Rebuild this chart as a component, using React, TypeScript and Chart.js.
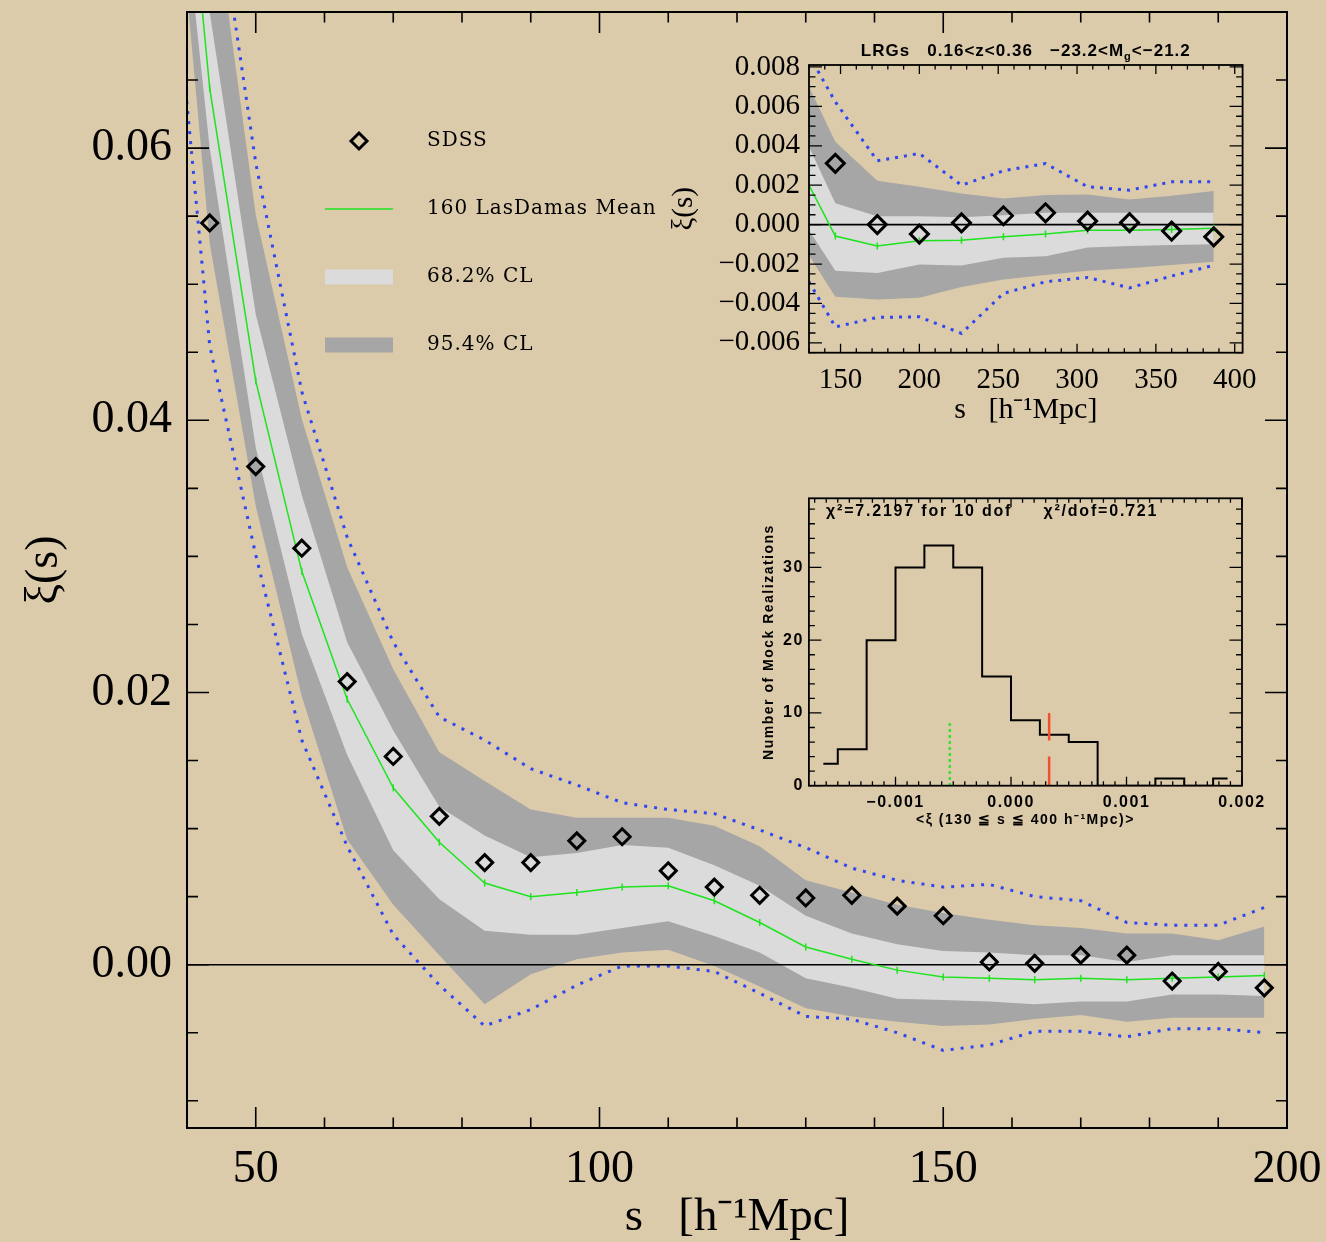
import React, { useEffect, useRef } from 'react';
import { Chart, registerables } from 'chart.js';

Chart.register(...registerables);

const BG = '#dccbab';
const GREEN = '#1fe31f';
const BLUE = '#2f47f2';
const DARK = '#a6a6a6';
const LIGHT = '#dadbda';
const RED = '#f0502c';

// ---------------- main panel ----------------
const sMock = [36.7, 43.3, 50.0, 56.7, 63.3, 70.0, 76.7, 83.3, 90.0, 96.7, 103.3, 110.0, 116.7, 123.3, 130.0, 136.7, 143.3, 150.0, 156.7, 163.3, 170.0, 176.7, 183.3, 190.0, 196.7];
const meanXi = [0.0994, 0.0644, 0.0429, 0.0289, 0.0195, 0.0130, 0.0090, 0.0060, 0.0050, 0.0053, 0.0057, 0.0058, 0.0047, 0.0031, 0.0013, 0.0004, -0.0004, -0.0009, -0.0010, -0.0011, -0.0010, -0.0011, -0.0010, -0.0009, -0.0008];
const ci68Upper = [0.106, 0.0700, 0.0478, 0.0345, 0.0237, 0.0172, 0.0116, 0.0095, 0.0079, 0.0082, 0.0088, 0.0086, 0.0073, 0.0058, 0.0036, 0.0023, 0.0015, 0.0010, 0.0009, 0.0007, 0.0007, 0.0002, 0.0007, 0.0007, 0.0007];
const ci68Lower = [0.0913, 0.0600, 0.0380, 0.0243, 0.0154, 0.0084, 0.0048, 0.0025, 0.0022, 0.0022, 0.0027, 0.0032, 0.0021, 0.0009, -0.0010, -0.0017, -0.0025, -0.0026, -0.0027, -0.0029, -0.0027, -0.0027, -0.0022, -0.0022, -0.0023];
const ci95Upper = [0.115, 0.0800, 0.0551, 0.0401, 0.0292, 0.0217, 0.0156, 0.0135, 0.0114, 0.0108, 0.0108, 0.0108, 0.0102, 0.0087, 0.0062, 0.0053, 0.0044, 0.0038, 0.0033, 0.0029, 0.0027, 0.0023, 0.0023, 0.0018, 0.0028];
const ci95Lower = [0.0897, 0.0530, 0.0337, 0.0197, 0.0092, 0.0044, 0.0007, -0.0029, -0.0007, 0.0004, 0.0009, 0.0011, -0.0001, -0.0016, -0.0032, -0.0038, -0.0042, -0.0045, -0.0044, -0.0040, -0.0037, -0.0042, -0.0039, -0.0039, -0.0039];
const envUpper = [0.120, 0.0820, 0.0589, 0.0421, 0.0314, 0.0237, 0.0182, 0.0165, 0.0144, 0.0132, 0.0119, 0.0114, 0.0111, 0.0099, 0.0086, 0.0071, 0.0062, 0.0057, 0.0059, 0.0050, 0.0047, 0.0031, 0.0029, 0.0029, 0.0042];
const envLower = [0.0810, 0.0455, 0.0301, 0.0165, 0.0087, 0.0022, -0.0015, -0.0045, -0.0033, -0.0015, -0.0001, -0.0001, -0.0005, -0.0021, -0.0038, -0.0040, -0.0050, -0.0063, -0.0059, -0.0049, -0.0049, -0.0053, -0.0047, -0.0047, -0.0050];
const sSdss = [43.3, 50.0, 56.7, 63.3, 70.0, 76.7, 83.3, 90.0, 96.7, 103.3, 110.0, 116.7, 123.3, 130.0, 136.7, 143.3, 150.0, 156.7, 163.3, 170.0, 176.7, 183.3, 190.0, 196.7];
const xiSdss = [0.0545, 0.0366, 0.0306, 0.0208, 0.0153, 0.0109, 0.0075, 0.0075, 0.0091, 0.0094, 0.0069, 0.0057, 0.0051, 0.0049, 0.0051, 0.0043, 0.0036, 0.0002, 0.0001, 0.0007, 0.0007, -0.0012, -0.0005, -0.0017];
const mainXRange = [40, 200];
const mainYRange = [-0.012, 0.07];
const mainXTicks = [50, 100, 150, 200];
const mainYTicks = [0, 0.02, 0.04, 0.06];
const legendLabels = ['SDSS', '160 LasDamas Mean', '68.2% CL', '95.4% CL'];

// ---------------- inset: large scales ----------------
const sInset = [130.0, 146.7, 173.3, 200.0, 226.7, 253.3, 280.0, 306.7, 333.3, 360.0, 386.7];
const meanInset = [0.0020, -0.00058, -0.00109, -0.00082, -0.00079, -0.00062, -0.00048, -0.00028, -0.00028, -0.00025, -0.00018];
const ci95UpperInset = [0.0070, 0.0042, 0.00222, 0.00192, 0.00158, 0.00133, 0.0015, 0.00153, 0.00128, 0.00146, 0.0017];
const ci68UpperInset = [0.00395, 0.00108, 0.00043, 0.00043, 0.00037, 0.00048, 0.0006, 0.0006, 0.0006, 0.0006, 0.0006];
const ci68LowerInset = [-0.00028, -0.00234, -0.00245, -0.00202, -0.00207, -0.00168, -0.0016, -0.00116, -0.00109, -0.00104, -0.0010];
const ci95LowerInset = [-0.00155, -0.00366, -0.0038, -0.00371, -0.00316, -0.00278, -0.00256, -0.00234, -0.00222, -0.00205, -0.00189];
const envUpperInset = [0.0086, 0.00623, 0.00324, 0.00361, 0.0020, 0.00273, 0.0031, 0.00192, 0.00175, 0.00217, 0.00217];
const envLowerInset = [-0.0029, -0.00519, -0.00471, -0.00468, -0.00552, -0.00349, -0.0029, -0.00268, -0.00321, -0.00261, -0.00206];
const sSdssInset = [146.7, 173.3, 200.0, 226.7, 253.3, 280.0, 306.7, 333.3, 360.0, 386.7];
const xiSdssInset = [0.00311, 0.0000, -0.00048, 0.00009, 0.00045, 0.0006, 0.00018, 0.0001, -0.00033, -0.00062];
const insetXRange = [130, 405];
const insetYRange = [-0.0065, 0.0081];
const insetXTicks = [150, 200, 250, 300, 350, 400];
const insetYTicks = [-0.006, -0.004, -0.002, 0, 0.002, 0.004, 0.006, 0.008];

// ---------------- inset: histogram ----------------
const histXi = [-0.001625, -0.001375, -0.001125, -0.000875, -0.000625, -0.000375, -0.000125, 0.000125, 0.000375, 0.000625, 0.000875, 0.001125, 0.001375, 0.001625, 0.001875];
const histCounts = [3, 5, 20, 30, 33, 30, 15, 9, 7, 6, 0, 0, 1, 0, 1];
const mockMeanXi = -0.00053;
const mockMeanMarker = [0, 9];
const sdssMeanXi = 0.00033;
const sdssMarkerLow = [0, 4];
const sdssMarkerHigh = [6.2, 10];
const histXRange = [-0.00175, 0.002];
const histYRange = [0, 39.5];
const histXTicks = [-0.001, 0, 0.001, 0.002];
const histYTicks = [0, 10, 20, 30];

const pts = (xs: number[], ys: (number | null)[]) => xs.map((x, i) => ({ x, y: ys[i] }));
const minus = (s: string) => s.replace('-', '\u2212');

const fitX = (h: number) => (s: any) => { s.height = h; s.paddingLeft = 0; s.paddingRight = 0; s.paddingTop = 0; s.paddingBottom = 0; };
const fitY = (w: number) => (s: any) => { s.width = w; s.paddingLeft = 0; s.paddingRight = 0; s.paddingTop = 0; s.paddingBottom = 0; };

// inward ticks + frame drawn from the chart's own scales
const frameTicks = {
  id: 'frameTicks',
  afterDraw(chart: any, _a: any, o: any) {
    const { ctx, chartArea: a } = chart;
    const xs = chart.scales.x;
    const ys = chart.scales.y;
    ctx.save();
    ctx.strokeStyle = '#000';
    ctx.lineWidth = o.tickWidth;
    ctx.beginPath();
    const xe = o.xMinorStep * 1e-3;
    for (let k = Math.ceil(xs.min / o.xMinorStep - 1e-6); k * o.xMinorStep <= xs.max + xe; k++) {
      const v = k * o.xMinorStep;
      const maj = o.xMajor.some((m: number) => Math.abs(m - v) < xe);
      const len = maj ? o.xMajorLen : o.xMinorLen;
      const p = xs.getPixelForValue(v);
      ctx.moveTo(p, a.bottom); ctx.lineTo(p, a.bottom - len);
      ctx.moveTo(p, a.top); ctx.lineTo(p, a.top + len);
    }
    const ye = o.yMinorStep * 1e-3;
    for (let k = Math.ceil(ys.min / o.yMinorStep - 1e-6); k * o.yMinorStep <= ys.max + ye; k++) {
      const v = k * o.yMinorStep;
      const maj = o.yMajor.some((m: number) => Math.abs(m - v) < ye);
      const len = maj ? o.yMajorLen : o.yMinorLen;
      const p = ys.getPixelForValue(v);
      ctx.moveTo(a.left, p); ctx.lineTo(a.left + len, p);
      ctx.moveTo(a.right, p); ctx.lineTo(a.right - len, p);
    }
    ctx.stroke();
    ctx.lineWidth = o.frameWidth;
    ctx.strokeRect(a.left, a.top, a.right - a.left, a.bottom - a.top);
    ctx.restore();
  },
};

// letter spacing for all text of a chart (tick labels and titles)
const spacing = {
  id: 'spacing',
  beforeUpdate(chart: any, _a: any, o: any) { if (o && o.value) (chart.ctx as any).letterSpacing = o.value; },
  beforeDraw(chart: any, _a: any, o: any) { if (o && o.value) (chart.ctx as any).letterSpacing = o.value; },
};

const mainLegend = {
  id: 'mainLegend',
  afterDraw(chart: any, _a: any, o: any) {
    const { ctx } = chart;
    const ds = chart.data.datasets;
    ctx.save();
    ctx.font = o.font;
    (ctx as any).letterSpacing = o.letterSpacing;
    ctx.textBaseline = 'middle';
    ctx.fillStyle = '#000';
    o.items.forEach((it: any, i: number) => {
      const y = o.top + i * o.rowGap;
      const d = ds[it.dataset];
      const x0 = o.left;
      const x1 = o.left + o.markerWidth;
      const cx = (x0 + x1) / 2;
      if (it.kind === 'point') {
        const r = d.pointRadius;
        ctx.strokeStyle = d.pointBorderColor;
        ctx.lineWidth = d.pointBorderWidth;
        ctx.beginPath();
        ctx.moveTo(cx - r, y); ctx.lineTo(cx, y - r); ctx.lineTo(cx + r, y); ctx.lineTo(cx, y + r);
        ctx.closePath();
        ctx.stroke();
      } else if (it.kind === 'line') {
        ctx.strokeStyle = d.borderColor;
        ctx.lineWidth = d.borderWidth;
        ctx.beginPath(); ctx.moveTo(x0, y); ctx.lineTo(x1, y); ctx.stroke();
      } else {
        ctx.fillStyle = d.backgroundColor;
        ctx.fillRect(x0, y - o.boxHeight / 2, x1 - x0, o.boxHeight);
      }
      ctx.fillStyle = '#000';
      ctx.fillText(it.label, o.textX, y);
    });
    ctx.restore();
  },
};

const runText = {
  id: 'runText',
  afterDraw(chart: any, _a: any, o: any) {
    if (!o || !o.runs) return;
    const { ctx, chartArea: a } = chart;
    ctx.save();
    ctx.fillStyle = '#000';
    ctx.textBaseline = 'middle';
    (ctx as any).letterSpacing = o.letterSpacing || '0px';
    const measure = (r: any) => {
      ctx.font = r.sub ? o.subFont : o.font;
      return ctx.measureText(r.text).width;
    };
    const total = o.runs.reduce((s: number, r: any) => s + measure(r), 0);
    let x = o.align === 'center' ? (a.left + a.right) / 2 - total / 2 : o.x;
    const y = o.y;
    o.runs.forEach((r: any) => {
      ctx.font = r.sub ? o.subFont : o.font;
      ctx.fillText(r.text, x, r.sub ? y + o.subShift : y);
      x += ctx.measureText(r.text).width;
    });
    ctx.restore();
  },
};

function makeDatasets(x: number[], mean: number[], c68u: number[], c68l: number[], c95u: number[], c95l: number[], eu: number[], el: number[], sx: number[], sy: number[], zeroX: number[], diamondR: number, dash: number[]) {
  const base = { pointRadius: 0, pointHoverRadius: 0, tension: 0 };
  return [
    { ...base, label: legendLabels[0], data: pts(sx, sy), showLine: false, pointStyle: 'rectRot', pointRadius: diamondR, pointBorderWidth: 3, pointBorderColor: '#000', pointBackgroundColor: 'rgba(0,0,0,0)', order: 1 },
    { ...base, label: legendLabels[1], data: pts(x, mean), borderColor: GREEN, borderWidth: 1.5, pointStyle: 'line', pointRotation: 90, pointRadius: 3.5, pointBorderWidth: 1.5, pointBorderColor: GREEN, order: 2 },
    { ...base, label: 'zero', data: pts(zeroX, [0, 0]), borderColor: '#000', borderWidth: 1.6, order: 3 },
    { ...base, label: 'envUpper', data: pts(x, eu), borderColor: BLUE, borderWidth: 3, borderDash: dash, order: 4 },
    { ...base, label: 'envLower', data: pts(x, el), borderColor: BLUE, borderWidth: 3, borderDash: dash, order: 4 },
    { ...base, label: legendLabels[2], data: pts(x, c68u), borderWidth: 0, borderColor: 'rgba(0,0,0,0)', backgroundColor: LIGHT, fill: 6, order: 5 },
    { ...base, label: 'ci68Lower', data: pts(x, c68l), borderWidth: 0, borderColor: 'rgba(0,0,0,0)', order: 5 },
    { ...base, label: legendLabels[3], data: pts(x, c95u), borderWidth: 0, borderColor: 'rgba(0,0,0,0)', backgroundColor: DARK, fill: 8, order: 6 },
    { ...base, label: 'ci95Lower', data: pts(x, c95l), borderWidth: 0, borderColor: 'rgba(0,0,0,0)', order: 6 },
  ];
}

function useChart(ref: React.RefObject<HTMLCanvasElement>, build: () => any) {
  useEffect(() => {
    if (!ref.current) return;
    const chart = new Chart(ref.current, build());
    return () => chart.destroy();
  }, []);
}

function MainChart() {
  const ref = useRef<HTMLCanvasElement>(null);
  useChart(ref, () => ({
    type: 'line',
    data: {
      datasets: makeDatasets(sMock, meanXi, ci68Upper, ci68Lower, ci95Upper, ci95Lower, envUpper, envLower, sSdss, xiSdss, mainXRange, 8, [3, 7]),
    },
    options: {
      animation: false,
      responsive: false,
      events: [],
      layout: { padding: { top: 12, right: 39, left: 0, bottom: 0 } },
      plugins: {
        legend: { display: false },
        tooltip: { enabled: false },
        frameTicks: { xMajor: mainXTicks, xMinorStep: 10, yMajor: mainYTicks, yMinorStep: 0.005, xMajorLen: 21, xMinorLen: 10.5, yMajorLen: 22, yMinorLen: 11, tickWidth: 1.6, frameWidth: 2 },
        mainLegend: {
          font: '20px "DejaVu Serif"', letterSpacing: '1px', left: 325, markerWidth: 68, textX: 427, top: 141, rowGap: 68, boxHeight: 15,
          items: [
            { dataset: 0, kind: 'point', label: legendLabels[0] },
            { dataset: 1, kind: 'line', label: legendLabels[1] },
            { dataset: 5, kind: 'box', label: legendLabels[2] },
            { dataset: 7, kind: 'box', label: legendLabels[3] },
          ],
        },
      },
      scales: {
        x: {
          type: 'linear', min: mainXRange[0], max: mainXRange[1],
          afterFit: fitX(114),
          afterBuildTicks: (s: any) => { s.ticks = mainXTicks.map((v) => ({ value: v })); },
          grid: { display: false, drawTicks: false }, border: { display: false },
          ticks: { font: { family: 'Liberation Serif', size: 46 }, color: '#000', padding: 14, maxRotation: 0, autoSkip: false, callback: (v: any) => String(v) },
          title: { display: true, text: 's   [h\u207B\u00B9Mpc]', color: '#000', font: { family: 'Liberation Serif', size: 47, lineHeight: 1 }, padding: { top: 0, bottom: 1 } },
        },
        y: {
          type: 'linear', min: mainYRange[0], max: mainYRange[1],
          afterFit: fitY(187),
          afterBuildTicks: (s: any) => { s.ticks = mainYTicks.map((v) => ({ value: v })); },
          grid: { display: false, drawTicks: false }, border: { display: false },
          ticks: { font: { family: 'Liberation Serif', size: 46 }, color: '#000', padding: 15, autoSkip: false, callback: (v: any) => minus(Number(v).toFixed(2)) },
          title: { display: true, text: '\u03BE(s)', color: '#000', font: { family: 'Liberation Serif', size: 46, lineHeight: 1 }, padding: { top: 22, bottom: 0 } },
        },
      },
    },
    plugins: [frameTicks, mainLegend],
  }));
  return <canvas ref={ref} width={1326} height={1242} style={{ position: 'absolute', left: 0, top: 0, display: 'block' }} />;
}

function InsetXi() {
  const ref = useRef<HTMLCanvasElement>(null);
  useChart(ref, () => ({
    type: 'line',
    data: {
      datasets: makeDatasets(sInset, meanInset, ci68UpperInset, ci68LowerInset, ci95UpperInset, ci95LowerInset, envUpperInset, envLowerInset, sSdssInset, xiSdssInset, insetXRange, 9, [3, 6]),
    },
    options: {
      animation: false,
      responsive: false,
      events: [],
      layout: { padding: { top: 35, right: 37.4, left: 0, bottom: 0 } },
      plugins: {
        legend: { display: false },
        tooltip: { enabled: false },
        frameTicks: { xMajor: insetXTicks, xMinorStep: 10, yMajor: insetYTicks, yMinorStep: 0.0005, xMajorLen: 9, xMinorLen: 4.5, yMajorLen: 13, yMinorLen: 6.5, tickWidth: 1.3, frameWidth: 1.8 },
        runText: {
          align: 'center', y: 21, font: 'bold 17px "Liberation Sans"', subFont: 'bold 11px "Liberation Sans"', subShift: 6, letterSpacing: '1px',
          runs: [{ text: 'LRGs   0.16<z<0.36   \u221223.2<M' }, { text: 'g', sub: true }, { text: '<\u221221.2' }],
        },
      },
      scales: {
        x: {
          type: 'linear', min: insetXRange[0], max: insetXRange[1],
          afterFit: fitX(97.3),
          afterBuildTicks: (s: any) => { s.ticks = insetXTicks.map((v) => ({ value: v })); },
          grid: { display: false, drawTicks: false }, border: { display: false },
          ticks: { font: { family: 'Liberation Serif', size: 29 }, color: '#000', padding: 10, maxRotation: 0, autoSkip: false, callback: (v: any) => String(v) },
          title: { display: true, text: 's   [h\u207B\u00B9Mpc]', color: '#000', font: { family: 'Liberation Serif', size: 30, lineHeight: 1 }, padding: { top: 0, bottom: 25 } },
        },
        y: {
          type: 'linear', min: insetYRange[0], max: insetYRange[1],
          afterFit: fitY(169),
          afterBuildTicks: (s: any) => { s.ticks = insetYTicks.map((v) => ({ value: v })); },
          grid: { display: false, drawTicks: false }, border: { display: false },
          ticks: { font: { family: 'Liberation Serif', size: 29 }, color: '#000', padding: 9, autoSkip: false, callback: (v: any) => minus(Number(v).toFixed(3)) },
          title: { display: true, text: '\u03BE(s)', color: '#000', font: { family: 'Liberation Serif', size: 29, lineHeight: 1 }, padding: { top: 30, bottom: 0 } },
        },
      },
    },
    plugins: [frameTicks, runText],
  }));
  return <canvas ref={ref} width={640} height={420} style={{ position: 'absolute', left: 640, top: 30, display: 'block' }} />;
}

function InsetHist() {
  const ref = useRef<HTMLCanvasElement>(null);
  const f = (size: number) => ({ family: 'Liberation Sans', size, weight: 'bold' as const, lineHeight: 1 });
  useChart(ref, () => ({
    type: 'line',
    data: {
      datasets: [
        { label: 'histogram', data: pts(histXi, histCounts), stepped: 'middle', borderColor: '#000', borderWidth: 2, pointRadius: 0, order: 3 },
        { label: 'mock mean', data: pts([mockMeanXi, mockMeanXi], mockMeanMarker), borderColor: GREEN, borderWidth: 2.5, borderDash: [2.5, 3.5], pointRadius: 0, order: 2 },
        { label: 'SDSS', data: [...pts([sdssMeanXi, sdssMeanXi], sdssMarkerLow), { x: sdssMeanXi, y: null }, ...pts([sdssMeanXi, sdssMeanXi], sdssMarkerHigh)], borderColor: RED, borderWidth: 2.5, pointRadius: 0, spanGaps: false, order: 1 },
      ],
    },
    options: {
      animation: false,
      responsive: false,
      events: [],
      layout: { padding: { top: 18.3, right: 38, left: 0, bottom: 0 } },
      plugins: {
        legend: { display: false },
        tooltip: { enabled: false },
        spacing: { value: '1.5px' },
        frameTicks: { xMajor: histXTicks, xMinorStep: 0.0001, yMajor: histYTicks, yMinorStep: 2, xMajorLen: 9, xMinorLen: 4.5, yMajorLen: 12.5, yMinorLen: 6, tickWidth: 1.3, frameWidth: 1.8 },
        runText: {
          align: 'left', x: 86, y: 32, font: 'bold 16px "Liberation Sans"', subFont: 'bold 16px "Liberation Sans"', subShift: 0, letterSpacing: '1.8px',
          runs: [{ text: '\u03C7\u00B2=7.2197 for 10 dof     \u03C7\u00B2/dof=0.721' }],
        },
      },
      scales: {
        x: {
          type: 'linear', min: histXRange[0], max: histXRange[1],
          afterFit: fitX(54.3),
          afterBuildTicks: (s: any) => { s.ticks = histXTicks.map((v) => ({ value: v })); },
          grid: { display: false, drawTicks: false }, border: { display: false },
          ticks: { font: f(16), color: '#000', padding: 9, maxRotation: 0, autoSkip: false, callback: (v: any) => minus(Number(v).toFixed(3)) },
          title: { display: true, text: '<\u03BE (130 \u2266 s \u2266 400 h\u207B\u00B9Mpc)>', color: '#000', font: f(14), padding: { top: 0, bottom: 13 } },
        },
        y: {
          type: 'linear', min: histYRange[0], max: histYRange[1],
          afterFit: fitY(68.9),
          afterBuildTicks: (s: any) => { s.ticks = histYTicks.map((v) => ({ value: v })); },
          grid: { display: false, drawTicks: false }, border: { display: false },
          ticks: { font: f(16), color: '#000', padding: 5, autoSkip: false, callback: (v: any) => String(v) },
          title: { display: true, text: 'Number of Mock Realizations', color: '#000', font: f(14), padding: { top: 22, bottom: 0 } },
        },
      },
    },
    plugins: [spacing, frameTicks, runText],
  }));
  return <canvas ref={ref} width={540} height={360} style={{ position: 'absolute', left: 740, top: 480, display: 'block' }} />;
}

export default function App() {
  return (
    <div style={{ position: 'fixed', left: 0, top: 0, width: 1326, height: 1242, background: BG, overflow: 'hidden' }}>
      <MainChart />
      <InsetXi />
      <InsetHist />
    </div>
  );
}
